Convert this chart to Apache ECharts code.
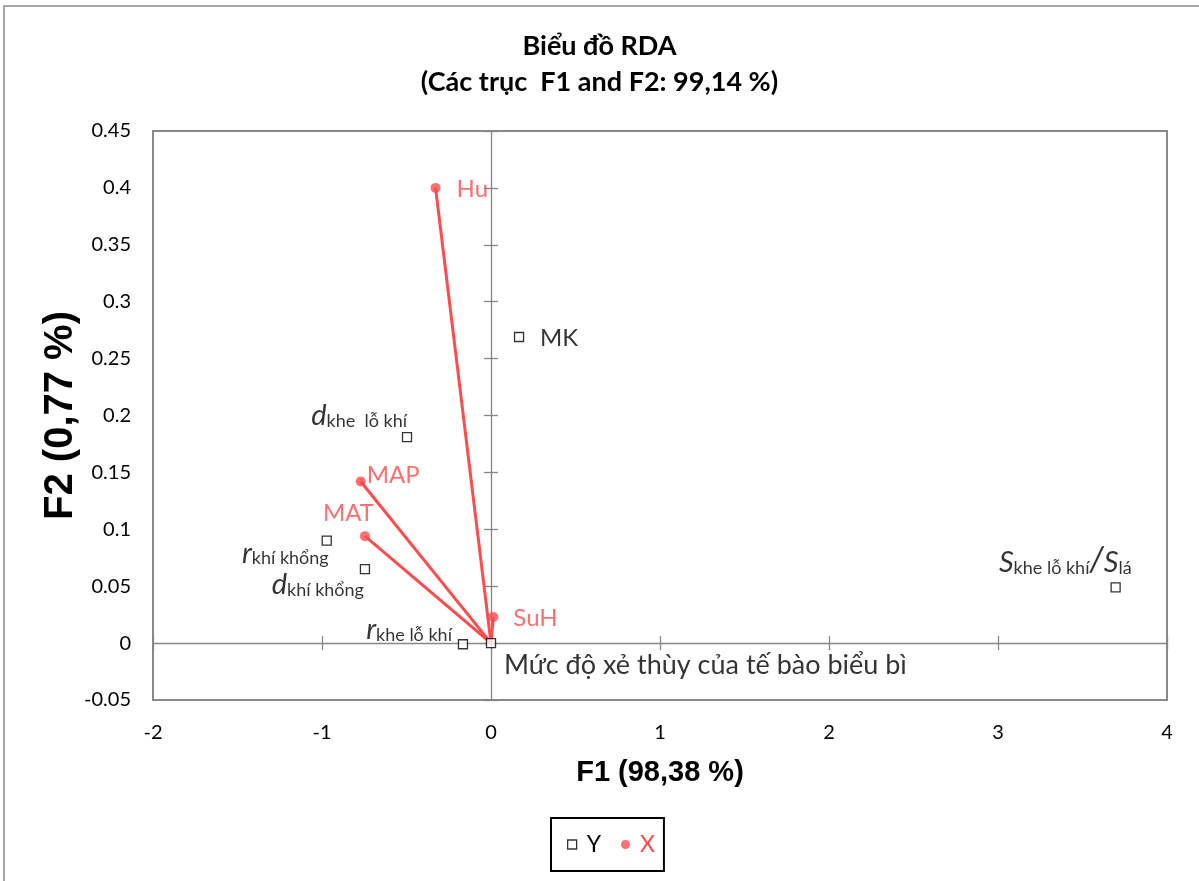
<!DOCTYPE html>
<html>
<head>
<meta charset="utf-8">
<script src="https://cdn.jsdelivr.net/npm/echarts@6/dist/echarts.min.js"></script>
<style>
  html, body { margin: 0; padding: 0; background: #fff; }
  #chart { width: 1199px; height: 881px; }
</style>
</head>
<body>
<div id="chart"></div>
<script>
// Response variables (Y) – RDA scores on F1 / F2
const yNames = ['MK', 'dKheLoKhi', 'rKhiKhong', 'dKhiKhong', 'rKheLoKhi', 'xeThuy', 'sRatio'];
const yF1 = [0.166, -0.497, -0.972, -0.746, -0.166, 0.000, 3.696];
const yF2 = [0.269, 0.181, 0.090, 0.065, -0.001, 0.000, 0.049];

// Explanatory variables (X) – drawn as vectors from the origin
const xNames = ['Hu', 'MAP', 'MAT', 'SuH'];
const xF1 = [-0.328, -0.771, -0.746, 0.014];
const xF2 = [0.400, 0.142, 0.094, 0.023];

// Tick labels
const xTickLabels = ['-2', '-1', '0', '1', '2', '3', '4'];
const yTickLabels = ['-0.05', '0', '0.05', '0.1', '0.15', '0.2', '0.25', '0.3', '0.35', '0.4', '0.45'];

const RED = '#FF4B4B';
const GRAY = '#868686';
const FONT = 'Lato, "Noto Sans", sans-serif';
const TITLE_FONT = '"Liberation Sans", Arial, sans-serif';

// Label text (rich) for each point
const labelText = {
  MK: 'MK',
  dKheLoKhi: '{it|d}{sub|khe  lỗ khí}',
  rKhiKhong: '{it|r}{sub|khí khổng}',
  dKhiKhong: '{it|d}{sub|khí khổng}',
  rKheLoKhi: '{it|r}{sub|khe lỗ khí}',
  xeThuy: '{big|Mức độ xẻ thùy của tế bào biểu bì}',
  sRatio: '{it|S}{sub|khe lỗ khí}{sl|/}{it|S}{sub|lá}',
  Hu: 'Hu', MAP: 'MAP', MAT: 'MAT', SuH: 'SuH'
};

// Label placement relative to each marker
const labelPlace = {
  MK:        { align: 'left',  offset: [21, 1] },
  dKheLoKhi: { align: 'right', offset: [0, -22] },
  rKhiKhong: { align: 'right', offset: [2, 12] },
  dKhiKhong: { align: 'right', offset: [-1, 15] },
  rKheLoKhi: { align: 'right', offset: [-11, -15] },
  xeThuy:    { align: 'left',  offset: [13, 22] },
  sRatio:    { align: 'right', offset: [16, -25] },
  Hu:        { align: 'left',  offset: [21, 1] },
  MAP:       { align: 'left',  offset: [6, -6] },
  MAT:       { align: 'right', offset: [9, -23] },
  SuH:       { align: 'left',  offset: [20, 1] }
};

const rich = {
  it:  { fontStyle: 'italic', fontSize: 29, lineHeight: 30, verticalAlign: 'bottom', fontFamily: FONT, color: '#000' },
  sub: { fontSize: 18, lineHeight: 12, verticalAlign: 'bottom', fontFamily: FONT, color: '#000' },
  sl:  { fontStyle: 'italic', fontSize: 34, lineHeight: 30, verticalAlign: 'bottom', fontFamily: FONT, color: '#000' },
  big: { fontSize: 27, fontFamily: FONT, color: '#000' }
};

function pointLabel(name, color) {
  const p = labelPlace[name];
  return {
    show: true,
    position: 'inside',
    formatter: labelText[name],
    align: p.align,
    verticalAlign: 'middle',
    offset: p.offset,
    fontSize: 24,
    fontFamily: FONT,
    color: color,
    rich: rich
  };
}

const yData = yNames.map((n, i) => ({ name: n, value: [yF1[i], yF2[i]], label: pointLabel(n, '#000') }));
const xData = xNames.map((n, i) => ({ name: n, value: [xF1[i], xF2[i]], label: pointLabel(n, RED) }));

// Vector lines from the origin to each X point
const vectorSeries = xNames.map((n, i) => ({
  type: 'line',
  name: 'vec-' + n,
  data: [[0, 0], [xF1[i], xF2[i]]],
  symbol: 'none',
  silent: true,
  z: 2,
  lineStyle: { color: RED, width: 3 },
  xAxisIndex: 0, yAxisIndex: 0
}));

const xBase = { type: 'value', min: -2, max: 4, interval: 1, splitLine: { show: false } };
const yBase = { type: 'value', min: -0.05, max: 0.45, interval: 0.05, splitLine: { show: false } };

const option = {
  backgroundColor: '#fff',
  animation: false,
  title: {
    text: 'Biểu đồ RDA\n(Các trục  F1 and F2: 99,14 %)',
    left: 'center',
    top: 23,
    textStyle: { fontSize: 27, fontWeight: 'bold', lineHeight: 36, fontFamily: FONT, color: '#000' }
  },
  legend: {
    data: [
      { name: 'Y', icon: 'rect', itemStyle: { color: '#fff', borderColor: '#000', borderWidth: 1.3 }, textStyle: { color: '#000' } },
      { name: 'X', icon: 'circle', itemStyle: { color: RED }, textStyle: { color: RED } }
    ],
    left: 551,
    top: 818,
    padding: [15, 9, 15, 16],
    borderColor: '#000',
    borderWidth: 2,
    itemWidth: 9,
    itemHeight: 9,
    itemGap: 20,
    textStyle: { fontSize: 23, fontFamily: FONT, padding: [0, 0, 0, 5] }
  },
  grid: {
    left: 153, right: 32, top: 131, bottom: 181,
    show: true, borderColor: '#898989', borderWidth: 2, backgroundColor: 'transparent'
  },
  xAxis: [
    Object.assign({}, xBase, {
      position: 'bottom',
      axisLine: { show: false, onZero: false },
      axisTick: { show: false },
      axisLabel: { fontSize: 20, fontFamily: FONT, color: '#000', margin: 23,
        formatter: v => xTickLabels[Math.round(v - xBase.min)] },
      name: 'F1 (98,38 %)',
      nameLocation: 'middle',
      nameGap: 58,
      nameMoveOverlap: false,
      nameTextStyle: { fontSize: 29, fontWeight: 'bold', fontFamily: TITLE_FONT, color: '#000' }
    }),
    Object.assign({}, xBase, {
      position: 'top',
      axisLine: { show: true, onZero: true, onZeroAxisIndex: 0, lineStyle: { color: GRAY, width: 1.3 } },
      axisTick: { show: true, inside: false, length: 7, lineStyle: { color: GRAY, width: 1.3 } },
      axisLabel: { show: false }
    }),
    Object.assign({}, xBase, {
      position: 'bottom',
      axisLine: { show: false, onZero: true, onZeroAxisIndex: 0 },
      axisTick: { show: true, inside: false, length: 7, lineStyle: { color: GRAY, width: 1.3 } },
      axisLabel: { show: false }
    })
  ],
  yAxis: [
    Object.assign({}, yBase, {
      position: 'left',
      axisLine: { show: false, onZero: false },
      axisTick: { show: false },
      axisLabel: { fontSize: 20, fontFamily: FONT, color: '#000', margin: 22,
        formatter: v => yTickLabels[Math.round((v - yBase.min) / yBase.interval)] },
      name: 'F2 (0,77 %)',
      nameLocation: 'middle',
      nameGap: 72,
      nameMoveOverlap: false,
      nameTextStyle: { fontSize: 40, fontWeight: 'bold', fontFamily: TITLE_FONT, color: '#000' }
    }),
    Object.assign({}, yBase, {
      position: 'left',
      axisLine: { show: true, onZero: true, onZeroAxisIndex: 0, lineStyle: { color: GRAY, width: 1.3 } },
      axisTick: { show: true, inside: false, length: 7, lineStyle: { color: GRAY, width: 1.3 } },
      axisLabel: { show: false }
    }),
    Object.assign({}, yBase, {
      position: 'right',
      axisLine: { show: false, onZero: true, onZeroAxisIndex: 0 },
      axisTick: { show: true, inside: false, length: 7, lineStyle: { color: GRAY, width: 1.3 } },
      axisLabel: { show: false }
    })
  ],
  graphic: [
    {
      type: 'polyline',
      silent: true,
      shape: { points: [[4, 881], [4, 6], [1199, 6]] },
      style: { stroke: '#8a8a8a', lineWidth: 1.5, fill: null }
    }
  ],
  series: vectorSeries.concat([
    {
      type: 'scatter',
      name: 'Y',
      data: yData,
      symbol: 'rect',
      symbolSize: 9,
      z: 4,
      itemStyle: { color: '#fff', borderColor: '#000', borderWidth: 1.3 },
      xAxisIndex: 0, yAxisIndex: 0
    },
    {
      type: 'scatter',
      name: 'X',
      data: xData,
      symbol: 'circle',
      symbolSize: 10,
      z: 5,
      itemStyle: { color: RED },
      xAxisIndex: 0, yAxisIndex: 0
    }
  ])
};

const chart = echarts.init(document.getElementById('chart'), null, { renderer: 'canvas' });
chart.setOption(option);
</script>
</body>
</html>
